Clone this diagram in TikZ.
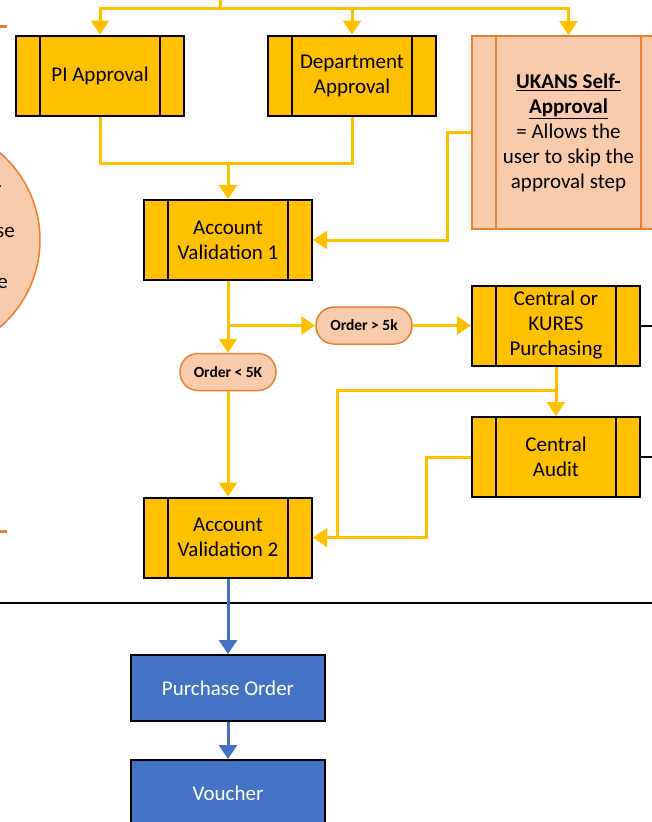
\documentclass[tikz,border=0pt]{standalone}
\usepackage{xcolor}
\usepackage{fontspec}
\setmainfont{Carlito}
\usepackage{tikz}
\usetikzlibrary{arrows.meta, calc}
\definecolor{myyellow}{RGB}{255,192,0}
\definecolor{myorange}{RGB}{237,125,49}
\definecolor{mypeach}{RGB}{248,203,173}
\definecolor{myblue}{RGB}{68,114,196}
\tikzset{
  procbox/.style={rectangle, draw=black, fill=myyellow,
    minimum width=168pt, minimum height=80pt, align=center,
    font=\fontsize{21}{25}\selectfont, line width=2pt,
    path picture={
      \draw[line width=2pt] ([xshift=24pt]path picture bounding box.north west)
        -- ([xshift=24pt]path picture bounding box.south west);
      \draw[line width=2pt] ([xshift=-24pt]path picture bounding box.north east)
        -- ([xshift=-24pt]path picture bounding box.south east);}},
  selfbox/.style={procbox, draw=myorange, fill=mypeach,
    minimum width=193pt, minimum height=193pt,
    path picture={
      \draw[myorange, line width=2pt] ([xshift=24pt]path picture bounding box.north west)
        -- ([xshift=24pt]path picture bounding box.south west);
      \draw[myorange, line width=2pt] ([xshift=-24pt]path picture bounding box.north east)
        -- ([xshift=-24pt]path picture bounding box.south east);}},
  pill/.style={rectangle, rounded corners=18pt, draw=myorange, fill=mypeach,
    minimum width=96pt, minimum height=37pt, line width=1.5pt,
    font=\fontsize{15.5}{17}\selectfont\bfseries},
  bluebox/.style={rectangle, draw=black, fill=myblue, text=white,
    minimum width=194pt, minimum height=66pt, line width=2pt,
    font=\fontsize{21}{25}\selectfont},
  arrow/.style={-{Triangle[width=18pt,length=14pt]}, line width=3pt, color=myyellow},
  bluearrow/.style={-{Triangle[width=18pt,length=14pt]}, line width=3pt, color=myblue},
  line/.style={line width=3pt, color=myyellow},
  blackline/.style={line width=2pt, color=black}
}
\begin{document}
\begin{tikzpicture}[x=1pt, y=-1pt]
  \useasboundingbox (0,0) rectangle (652,822);
  \clip (0,0) rectangle (652,822);

  % --- note on the left ---
  \draw[draw=myorange, fill=mypeach, line width=1.5pt] (-75,240) circle (115pt);
  \node[anchor=base east, inner sep=0pt, font=\fontsize{21}{25}\selectfont] (n1) at (2,192) {-};
  \node[anchor=base east, inner sep=0pt, font=\fontsize{21}{25}\selectfont] (n2) at (15,237) {se};
  \node[anchor=base east, inner sep=0pt, font=\fontsize{21}{25}\selectfont] (n3) at (8,288) {e};
  \draw[myorange, line width=3pt] (0,26) -- (7,26);
  \draw[myorange, line width=3pt] (0,531) -- (7,531);

  % --- approvals ---
  \node[procbox] (pi) at (100,75.5) {PI Approval};
  \node[procbox] (dept) at (352,75.5) {Department\\Approval};
  \node[selfbox] (self) at (568.5,132.5) {\textbf{\underline{UKANS Self-}}\\\textbf{\underline{Approval}}\\= Allows the\\user to skip the\\approval step};

  \coordinate (top) at (220,0);
  \coordinate (split) at (220,8);
  \draw[line] (top) -- (split);
  \draw[arrow] (split) -| (pi.north);
  \draw[arrow] (split) -| (dept.north);
  \draw[arrow] (split) -| (self.north);

  % --- validation 1 ---
  \node[procbox] (av1) at (228,240) {Account\\Validation 1};
  \coordinate (join) at (228,163);
  \draw[line] (pi.south) |- (join) -| (dept.south);
  \draw[arrow] (join) -- (av1.north);
  \draw[arrow] (self.west) -- ++(-24,0) |- (av1.east);

  % --- order split ---
  \node[pill] (gt5) at (364,325.5) {Order > 5k};
  \node[pill] (lt5) at (228,372) {Order < 5K};
  \node[procbox] (central) at (556,325.5) {Central or\\KURES\\Purchasing};
  \node[procbox] (audit) at (556,457) {Central\\Audit};
  \node[procbox] (av2) at (228,537.5) {Account\\Validation 2};

  \coordinate (branch) at (228,325.5);
  \draw[arrow] (av1.south) -- (lt5.north);
  \draw[arrow] (branch) -- (gt5.west);
  \draw[arrow] (gt5.east) -- (central.west);
  \draw[arrow] (lt5.south) -- (av2.north);
  \draw[arrow] (central.south) -- (audit.north);
  \coordinate (fork) at (556,390);
  \draw[arrow] (fork) -| ([xshift=24pt]av2.east) -- (av2.east);
  \draw[arrow] (audit.west) -| ([xshift=113pt]av2.east) -- (av2.east);
  \draw[blackline] (central.east) -- ++(20,0);
  \draw[blackline] (audit.east) -- ++(20,0);

  % --- divider ---
  \draw[blackline] (0,603) -- (652,603);

  % --- documents ---
  \node[bluebox] (po) at (228,688) {Purchase Order};
  \node[bluebox] (voucher) at (228,793) {Voucher};
  \draw[bluearrow] (av2.south) -- (po.north);
  \draw[bluearrow] (po.south) -- (voucher.north);
\end{tikzpicture}
\end{document}
